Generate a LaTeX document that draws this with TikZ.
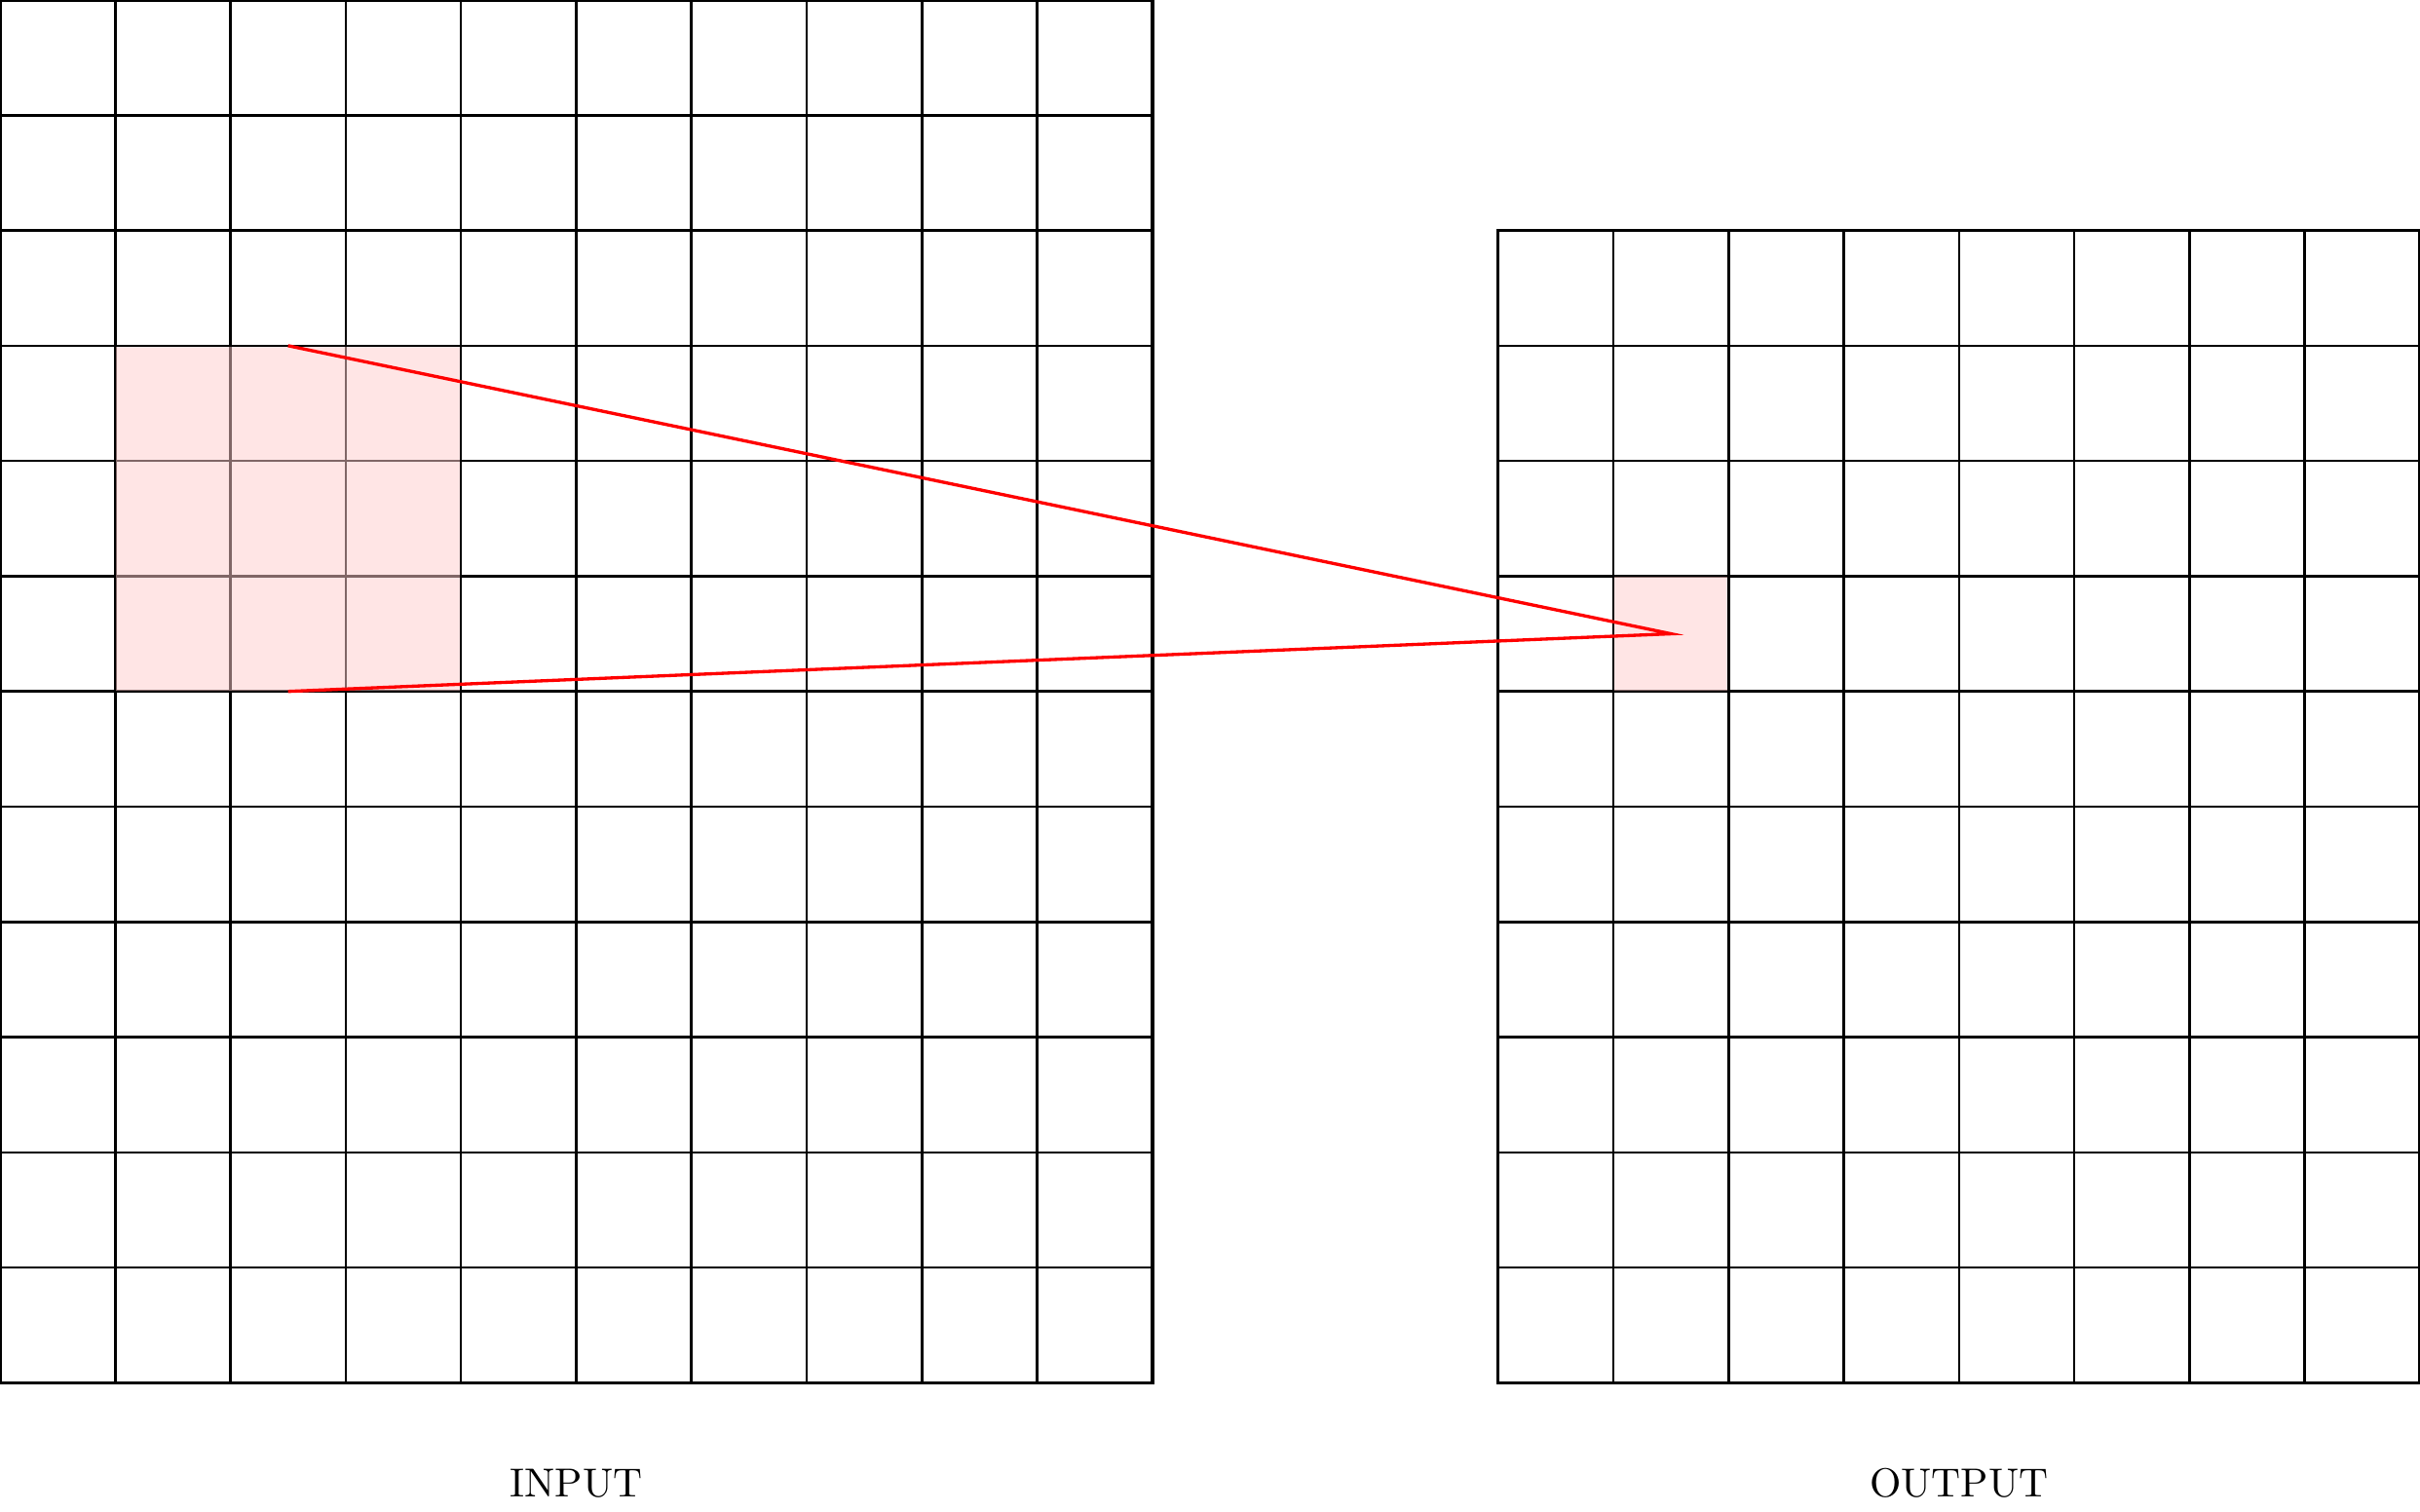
\documentclass[tikz,border=0pt]{standalone}
\usetikzlibrary{positioning}
\tikzstyle{gridline} = [
    semithick,
    draw=black
]
\tikzstyle{border} = [
    thick,
    draw=black
]
\tikzstyle{field} = [
    draw=black,
    fill=red!20,
    fill opacity=0.5
]
\tikzstyle{ray} = [thick, draw=red]

\begin{document}
\begin{tikzpicture}

\useasboundingbox (0,-1.113) rectangle (21,12);

% input map
\draw [gridline] (0,0) grid (10,12);
\draw [border] (0,0) rectangle (10,12);

% output map
\draw [gridline] (13,0) grid (21,10);
\draw [border] (13,0) rectangle (21,10);

% receptive field and its output cell
\draw [field] (1,6) rectangle (4,9);
\draw [field] (14,6) rectangle (15,7);

\coordinate (fieldtop) at (2.5,9);
\coordinate (fieldbottom) at (2.5,6);
\coordinate (target) at (14.5,6.5);

\draw [ray] (fieldtop) -- (target) -- (fieldbottom);

\node (input) at (5,-0.87) {INPUT};
\node (output) at (17,-0.87) {OUTPUT};

\end{tikzpicture}
\end{document}
